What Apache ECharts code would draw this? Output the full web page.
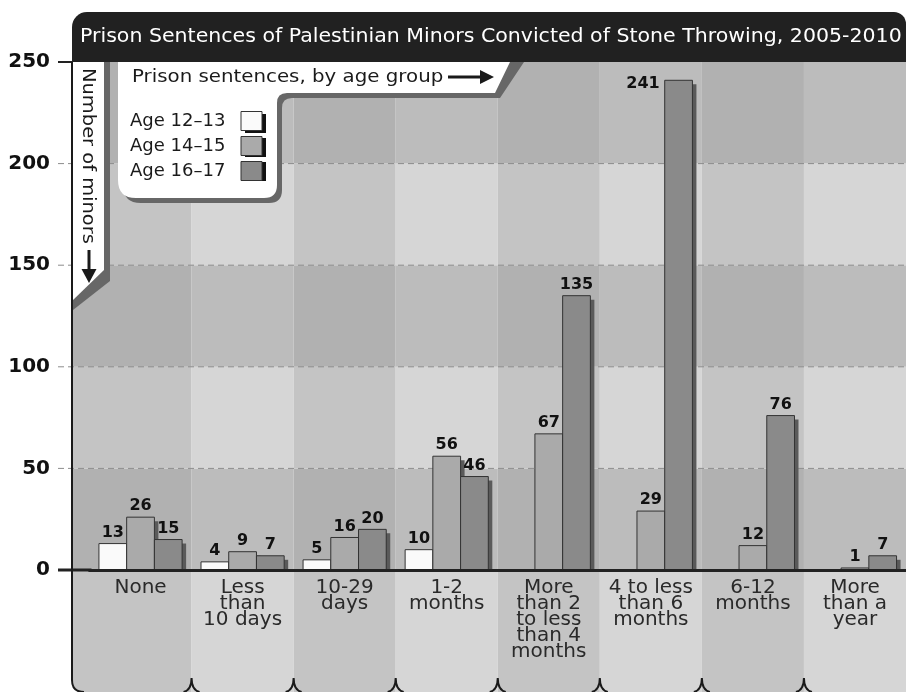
<!DOCTYPE html>
<html><head><meta charset="utf-8">
<script src="https://cdn.jsdelivr.net/npm/echarts@6/dist/echarts.min.js"></script>
<style>html,body{margin:0;padding:0;background:#fff}#c{width:906px;height:692px}</style>
</head><body><div id="c"></div>
<script>
// ---- data ----
const categories = ['None', 'Less\nthan\n10 days', '10-29\ndays', '1-2\nmonths', 'More\nthan 2\nto less\nthan 4\nmonths', '4 to less\nthan 6\nmonths', '6-12\nmonths', 'More\nthan a\nyear'];
const seriesNames = ['Age 12–13', 'Age 14–15', 'Age 16–17'];
const age12to13 = [13, 4, 5, 10, 0, 0, 0, 0];
const age14to15 = [26, 9, 16, 56, 67, 29, 12, 1];
const age16to17 = [15, 7, 20, 46, 135, 241, 76, 7];
const yTicks = [0, 50, 100, 150, 200, 250];
const titleText = 'Prison Sentences of Palestinian Minors Convicted of Stone Throwing, 2005-2010';
const xTitle = 'Prison sentences, by age group';
const yTitle = 'Number of minors';

// ---- layout / style ----
const FONT = '"DejaVu Sans", Verdana, sans-serif';
const AX = 72, GL = 89.5, GT = 62, GW = 826, GH = 508, RIGHT = 906;
const GROUP = 0.815;
const barColors = ['#fafafa', '#aaaaaa', '#8a8a8a'];
const seriesData = [age12to13, age14to15, age16to17];
const LEG = {left: 130, top: 111, textW: 106, iw: 21, ih: 19, gap: 5};

const chart = echarts.init(document.getElementById('c'));

function bgRender(params, api) {
  const lo = api.value(0), hi = api.value(1), j = api.value(2);
  const yLo = api.coord([0, lo])[1], yHi = api.coord([0, hi])[1];
  const band = api.size([1, 0])[0];
  const ch = [];
  categories.forEach((c, i) => {
    const cx = api.coord([i, lo])[0];
    const x0 = i === 0 ? AX : cx - band / 2;
    const x1 = cx + band / 2;
    const even = i % 2 === 0;
    const dark = j % 2 === 0;
    ch.push({type: 'rect', shape: {x: x0, y: yHi, width: x1 - x0, height: yLo - yHi},
      style: {fill: dark ? (even ? '#b1b1b1' : '#bcbcbc') : (even ? '#c4c4c4' : '#d6d6d6')}});
    if (j === 0) {
      ch.push({type: 'rect', shape: {x: x0, y: yLo, width: x1 - x0, height: 692 - yLo, r: i === 0 ? [0, 0, 0, 12] : 0},
        style: {fill: even ? '#c4c4c4' : '#d6d6d6'}});
    }
  });
  if (lo > 0) {
    ch.push({type: 'line', shape: {x1: 58, y1: yLo, x2: RIGHT, y2: yLo},
      style: {stroke: '#8c8c8c', lineWidth: 1, lineDash: [6, 4]}});
  } else {
    ch.push({type: 'line', shape: {x1: 58, y1: yLo, x2: GL + 2, y2: yLo}, style: {stroke: '#222', lineWidth: 3}});
  }
  if (hi === yTicks[yTicks.length - 1]) {
    ch.push({type: 'line', shape: {x1: 58, y1: yHi, x2: AX, y2: yHi}, style: {stroke: '#222', lineWidth: 2}});
  }
  return {type: 'group', children: ch};
}

function barRender(si) {
  return function (params, api) {
    const i = api.value(0), v = api.value(1);
    const base = api.coord([i, 0]), top = api.coord([i, v]);
    const band = api.size([1, 0])[0];
    const gw = band * GROUP, bw = gw / 3;
    const x = base[0] - gw / 2 + si * bw;
    const h = base[1] - top[1];
    const ch = [];
    if (h > 4) ch.push({type: 'rect', shape: {x: x + 4, y: top[1] + 4, width: bw, height: h - 4}, style: {fill: '#5a5a5a'}});
    ch.push({type: 'rect', shape: {x: x, y: top[1], width: bw, height: h},
      style: {fill: barColors[si], stroke: '#333', lineWidth: 1}});
    if (v > 0) {
      const nearTop = v > 230;
      ch.push({type: 'text', z2: 10, style: {
        text: String(v),
        x: nearTop ? x - 5 : x + bw / 2,
        y: nearTop ? top[1] + 4 : top[1] - 3,
        align: nearTop ? 'right' : 'center',
        verticalAlign: nearTop ? 'middle' : 'bottom',
        font: 'bold 16px ' + FONT, fill: '#111'}});
    }
    return {type: 'group', children: ch};
  };
}

// decorations drawn through a custom series (paths with curves)
function decorRender(params, api) {
  const band = api.size([1, 0])[0];
  const ch = [];
  // legend box shadow + white box
  ch.push({type: 'path', shape: {pathData: 'M123,62 L524,62 L500,98 L292,98 Q282,98 282,108 L282,190 Q282,203 269,203 L141,203 Q123,203 123,185 Z'}, style: {fill: '#676767'}});
  ch.push({type: 'path', shape: {pathData: 'M118,62 L510,62 L495,93 L287,93 Q277,93 277,103 L277,185 Q277,198 264,198 L136,198 Q118,198 118,180 Z'}, style: {fill: '#ffffff'}});
  // swatch shadows
  seriesNames.forEach((n, k) => {
    ch.push({type: 'rect', shape: {x: LEG.left + LEG.textW + 5 + 4, y: LEG.top + k * (LEG.ih + LEG.gap) + 3, width: LEG.iw, height: LEG.ih}, style: {fill: '#111'}});
  });
  // vertical banner
  ch.push({type: 'polygon', shape: {points: [[73, 62], [110, 62], [110, 281], [73, 310]]}, style: {fill: '#676767'}});
  ch.push({type: 'polygon', shape: {points: [[73, 62], [104, 62], [104, 270], [73, 300]]}, style: {fill: '#ffffff'}});
  ch.push({type: 'text', x: 132, y: 77, scaleX: 1.1, style: {text: xTitle, font: '18px ' + FONT, fill: '#1a1a1a', verticalAlign: 'middle', align: 'left'}});
  ch.push({type: 'line', shape: {x1: 448, y1: 77, x2: 482, y2: 77}, style: {stroke: '#1a1a1a', lineWidth: 3}});
  ch.push({type: 'polygon', shape: {points: [[480, 70], [480, 84], [494, 77]]}, style: {fill: '#1a1a1a'}});
  ch.push({type: 'text', x: 88, y: 68, rotation: -Math.PI / 2, scaleX: 1.08, style: {text: yTitle, font: '18px ' + FONT, fill: '#1a1a1a', verticalAlign: 'middle', align: 'left'}});
  ch.push({type: 'line', shape: {x1: 89, y1: 250, x2: 89, y2: 270}, style: {stroke: '#1a1a1a', lineWidth: 3}});
  ch.push({type: 'polygon', shape: {points: [[81.5, 269], [96.5, 269], [89, 283]]}, style: {fill: '#1a1a1a'}});
  // left border continuing under the axis
  ch.push({type: 'path', shape: {pathData: `M${AX},${GT} L${AX},680 Q${AX},692 ${AX + 12},692`}, style: {stroke: '#1a1a1a', lineWidth: 2, fill: 'none'}});
  // brace tips at category boundaries
  for (let k = 1; k < categories.length; k++) {
    const bx = api.coord([k, 0])[0] - band / 2;
    ch.push({type: 'path', shape: {pathData: `M${bx - 8},692 Q${bx},690 ${bx},678 Q${bx},690 ${bx + 8},692`},
      style: {stroke: '#1a1a1a', lineWidth: 2, fill: 'none'}});
  }
  return {type: 'group', children: ch};
}

const series = [{
  type: 'custom', name: 'bg', z: -5, silent: true,
  renderItem: bgRender,
  encode: {x: 3, y: 0},
  data: yTicks.slice(0, -1).map((v, j) => [v, yTicks[j + 1], j, 0])
}].concat(seriesNames.map((name, si) => ({
  type: 'custom', name: name, z: 2, silent: true,
  itemStyle: {color: barColors[si]},
  renderItem: barRender(si),
  encode: {x: 0, y: 1},
  data: seriesData[si].map((v, i) => [i, v])
}))).concat([{
  type: 'custom', name: 'decor', z: 5, silent: true,
  renderItem: decorRender,
  encode: {x: 0, y: 1},
  data: [[0, 0]]
}]);

const graphic = [
  {type: 'rect', z: 1, shape: {x: AX, y: 12, width: RIGHT - AX, height: GT - 12, r: [15, 12, 0, 0]}, style: {fill: '#212121'}},
  {type: 'text', z: 6, x: 80, y: 37, scaleX: 1.08, style: {text: titleText, font: '19px ' + FONT, fill: '#ffffff', verticalAlign: 'middle', align: 'left'}}
];

chart.setOption({
  animation: false,
  backgroundColor: '#ffffff',
  grid: {left: GL, top: GT, width: GW, height: GH, containLabel: false},
  xAxis: {
    type: 'category', data: categories, z: 3,
    axisLine: {lineStyle: {color: '#222', width: 3}},
    axisTick: {show: false},
    axisLabel: {interval: 0, margin: 10, fontFamily: FONT, fontSize: 20, lineHeight: 16, color: '#2a2a2a'},
    splitLine: {show: false}
  },
  yAxis: {
    type: 'value', min: 0, max: 250, interval: 50, offset: GL - AX, z: 3,
    axisLine: {show: true, lineStyle: {color: '#222', width: 2}},
    axisTick: {show: false},
    axisLabel: {margin: 22, fontFamily: FONT, fontSize: 20, fontWeight: 'bold', color: '#111'},
    splitLine: {show: false}
  },
  legend: {
    orient: 'vertical', left: LEG.left, top: LEG.top, align: 'right', icon: 'rect', z: 10,
    itemWidth: LEG.iw, itemHeight: LEG.ih, itemGap: LEG.gap, selectedMode: false, padding: 0,
    formatter: n => '{a|' + n + '}',
    textStyle: {fontFamily: FONT, fontSize: 18, color: '#1a1a1a', lineHeight: LEG.ih,
      rich: {a: {width: LEG.textW, align: 'left', fontFamily: FONT, fontSize: 18, color: '#1a1a1a', lineHeight: LEG.ih}}},
    data: seriesNames.map((n, k) => ({name: n, itemStyle: {color: barColors[k], borderColor: '#333', borderWidth: 1}}))
  },
  graphic: graphic,
  series: series
});
</script></body></html>
